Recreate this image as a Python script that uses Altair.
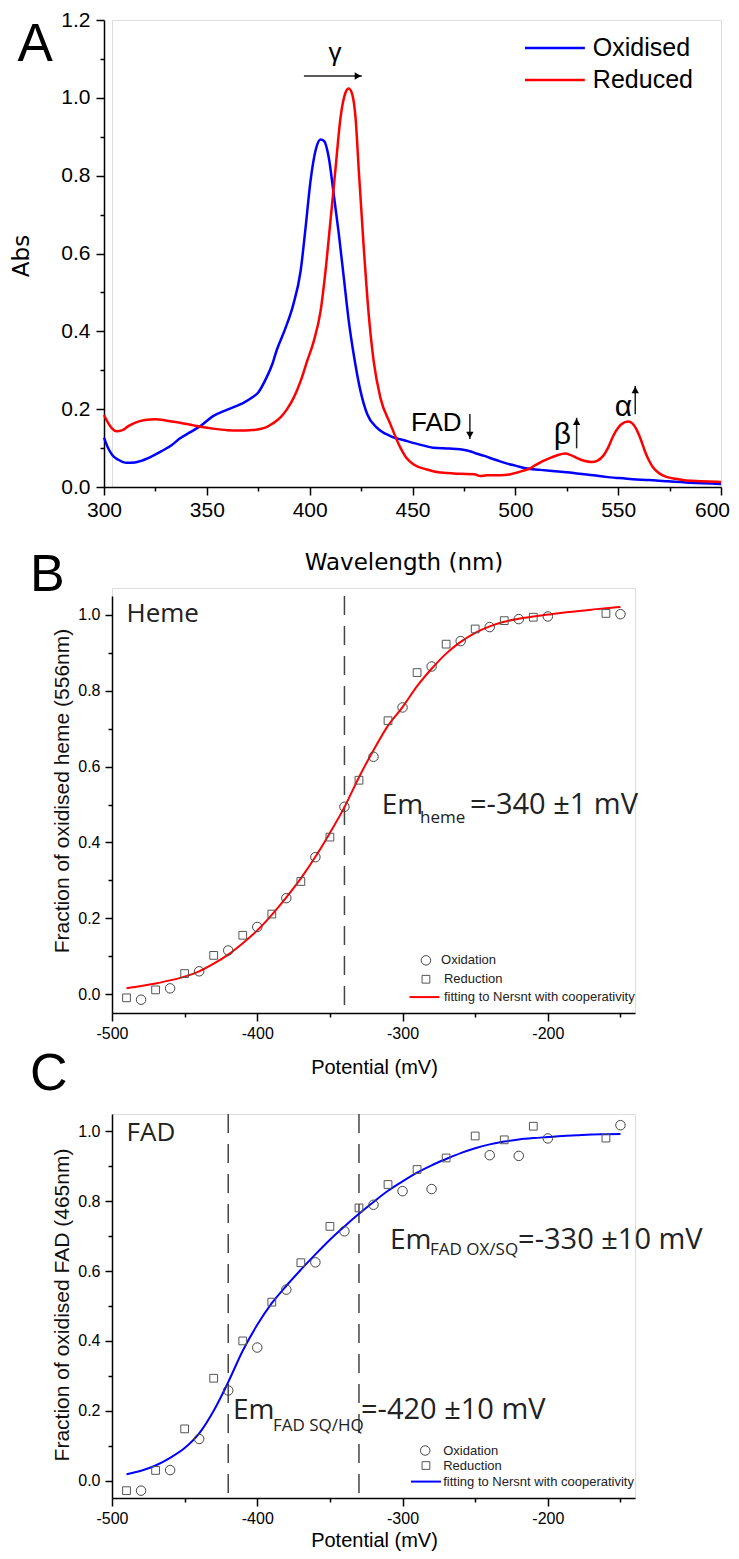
import altair as alt
import pandas as pd

# ---------------- Panel A: absorption spectra ----------------
wl_ox = [300, 302, 304, 307, 311, 315, 318, 323, 328, 333, 337, 342, 347, 353, 360, 368, 372, 375, 379, 382,
         384, 388, 392, 395.6, 398, 400.4, 403, 405.3, 407, 409.3, 411.7, 414.2, 416.6, 419, 421.4, 424.7, 428,
         432.8, 439.3, 447.4, 455, 460, 468, 473, 478, 481, 485, 488, 492, 496, 500, 505, 512, 518, 525, 531,
         538, 544, 550, 557, 565, 573, 585, 600]
abs_ox = [0.127, 0.100, 0.082, 0.070, 0.062, 0.063, 0.067, 0.078, 0.092, 0.108, 0.125, 0.141, 0.157, 0.182,
          0.199, 0.217, 0.230, 0.243, 0.281, 0.318, 0.352, 0.405, 0.468, 0.555, 0.666, 0.786, 0.868, 0.893,
          0.889, 0.846, 0.752, 0.649, 0.538, 0.427, 0.341, 0.247, 0.187, 0.152, 0.131, 0.118, 0.107, 0.101,
          0.099, 0.097, 0.092, 0.086, 0.080, 0.074, 0.067, 0.060, 0.055, 0.048, 0.044, 0.041, 0.038, 0.034,
          0.030, 0.026, 0.023, 0.020, 0.018, 0.015, 0.011, 0.008]
wl_red = [300, 302, 304, 306, 309, 312, 315, 320, 325, 330, 337, 343, 347, 353, 360, 366, 371, 376, 379, 382,
          385.7, 389, 392.2, 395.6, 398.8, 402, 405.3, 407.7, 410.1, 412.6, 415, 417.4, 419, 420.7, 422.3, 423.9,
          426.3, 428.7, 431.1, 434.4, 439.3, 444.1, 447, 450.6, 457, 463.5, 473, 480, 483, 486, 492.6, 497,
          500.7, 504, 507.2, 510, 513.6, 517, 520.1, 524.2, 527, 529.8, 533, 537.1, 540, 542.7, 545, 547.6,
          550, 551.6, 554.9, 557, 558.9, 561, 563, 565, 567, 570, 573.5, 578, 583, 590, 600]
abs_red = [0.185, 0.165, 0.150, 0.143, 0.146, 0.157, 0.165, 0.172, 0.174, 0.171, 0.165, 0.159, 0.155, 0.150,
           0.146, 0.145, 0.146, 0.149, 0.154, 0.163, 0.178, 0.200, 0.229, 0.272, 0.324, 0.375, 0.452, 0.555,
           0.683, 0.820, 0.949, 1.013, 1.024, 1.009, 0.949, 0.812, 0.615, 0.444, 0.324, 0.229, 0.161, 0.101,
           0.075, 0.058, 0.045, 0.037, 0.034, 0.033, 0.028, 0.030, 0.030, 0.032, 0.037, 0.042, 0.048, 0.057,
           0.067, 0.075, 0.081, 0.086, 0.082, 0.075, 0.068, 0.064, 0.068, 0.080, 0.100, 0.131, 0.152, 0.161,
           0.168, 0.163, 0.148, 0.122, 0.092, 0.068, 0.050, 0.035, 0.026, 0.021, 0.017, 0.015, 0.013]
series_names = ["Oxidised", "Reduced"]
series_colors = ["#0000FF", "#FF0000"]

# ---------------- Panel B: heme titration ----------------
heme_ox_E = [-480, -460, -440, -420, -400, -380, -360, -340, -320, -300, -280, -260, -240, -220, -200, -150]
heme_ox_f = [-0.015, 0.015, 0.060, 0.115, 0.177, 0.253, 0.361, 0.494, 0.626, 0.756, 0.864, 0.931, 0.968,
             0.989, 0.996, 1.002]
heme_red_E = [-490, -470, -450, -430, -410, -390, -370, -350, -330, -310, -290, -270, -250, -230, -210, -160]
heme_red_f = [-0.010, 0.011, 0.054, 0.102, 0.155, 0.211, 0.297, 0.414, 0.564, 0.721, 0.848, 0.923, 0.963,
              0.985, 0.994, 1.004]
heme_fit_E = [-490, -480, -470, -460, -450, -440, -430, -420, -410, -400, -390, -380, -370, -360, -350, -340,
              -330, -320, -310, -300, -290, -280, -270, -260, -250, -240, -230, -220, -210, -200, -190, -180,
              -170, -160, -150]
heme_fit_f = [0.015, 0.021, 0.028, 0.036, 0.046, 0.060, 0.080, 0.104, 0.134, 0.168, 0.209, 0.255, 0.305, 0.362,
              0.425, 0.493, 0.572, 0.643, 0.708, 0.757, 0.812, 0.858, 0.898, 0.929, 0.953, 0.970, 0.982, 0.990,
              0.996, 1.001, 1.006, 1.010, 1.014, 1.018, 1.021]

# ---------------- Panel C: FAD titration ----------------
fad_ox_E = [-480, -460, -440, -420, -400, -380, -360, -340, -320, -300, -280, -240, -220, -200, -150]
fad_ox_f = [-0.029, 0.030, 0.119, 0.258, 0.381, 0.547, 0.625, 0.714, 0.790, 0.829, 0.835, 0.932, 0.930,
            0.980, 1.018]
fad_red_E = [-490, -470, -450, -430, -410, -390, -370, -350, -330, -310, -290, -270, -250, -230, -210, -160]
fad_red_f = [-0.029, 0.029, 0.148, 0.293, 0.400, 0.511, 0.624, 0.728, 0.781, 0.848, 0.891, 0.924, 0.987,
             0.976, 1.015, 0.981]
fad_fit_E = heme_fit_E
fad_fit_f = [0.018, 0.028, 0.043, 0.065, 0.093, 0.135, 0.200, 0.282, 0.372, 0.446, 0.508, 0.558, 0.604, 0.648,
             0.690, 0.728, 0.764, 0.798, 0.830, 0.857, 0.882, 0.903, 0.921, 0.938, 0.952, 0.963, 0.971, 0.977,
             0.981, 0.984, 0.987, 0.989, 0.991, 0.992, 0.993]

legend_labels = ["Oxidation", "Reduction", "fitting to Nersnt with cooperativity"]

# ---------------- fonts / helpers ----------------
SANS = "Liberation Sans, Arial, sans-serif"
NARROW = "Liberation Sans Narrow, Arial Narrow, Liberation Sans, sans-serif"
DEJ = "DejaVu Sans, sans-serif"
OPEN = "Open Sans, sans-serif"


def ptext(text, x, y, size, font=SANS, align="left", baseline="alphabetic", angle=None, color="black"):
    kw = dict(align=align, baseline=baseline, font=font, fontSize=size, color=color)
    if angle is not None:
        kw["angle"] = angle
    return alt.Chart(pd.DataFrame({"t": [text]})).mark_text(**kw).encode(
        x=alt.value(x), y=alt.value(y), text="t:N")


def axis(values, major_test, labels_expr, font, size, pad, offset=0, fmt=None, major=8, minor=4,
         label_offset=None):
    kw = dict(values=values, title=None, grid=False,
              labelExpr=f"({major_test}) ? {labels_expr} : ''",
              tickSize={"condition": {"test": major_test, "value": major}, "value": minor},
              labelFont=font, labelFontSize=size, labelColor="black", labelPadding=pad,
              labelOverlap=False, labelFlush=False,
              domainColor="black", domainWidth=1.5, tickColor="black", tickWidth=1.5, offset=offset)
    if fmt:
        kw["format"] = fmt
    if label_offset is not None:
        kw["labelOffset"] = label_offset
    return alt.Axis(**kw)


# ================= Panel A =================
axA_x = axis(list(range(300, 601, 25)), "datum.value % 50 === 0", "'' + datum.value", NARROW, 21, 4,
             label_offset={"condition": {"test": "datum.value === 600", "value": -9}, "value": 0})
axA_y = axis([round(i * 0.1, 1) for i in range(13)], "round(datum.value * 10) % 2 === 0", "datum.label",
             NARROW, 21, 6, offset=8, fmt=".1f")
xA = alt.X("wl:Q", scale=alt.Scale(domain=[300, 600], range=[-8, 609], nice=False, zero=False), axis=axA_x)
yA = alt.Y("abs:Q", scale=alt.Scale(domain=[0, 1.2], nice=False, zero=False), axis=axA_y)
colA = alt.Color("series:N", scale=alt.Scale(domain=series_names, range=series_colors), legend=None)

spec = pd.DataFrame({"wl": wl_ox + wl_red, "abs": abs_ox + abs_red,
                     "series": [series_names[0]] * len(wl_ox) + [series_names[1]] * len(wl_red)})
a_lines = alt.Chart(spec).mark_line(strokeWidth=2.5, interpolate="monotone").encode(x=xA, y=yA, color=colA)

legA = pd.DataFrame({"series": series_names, "wl": [504.7, 504.7], "wl2": [533.8, 533.8], "abs": [1.128, 1.046]})
a_leg_rule = alt.Chart(legA).mark_rule(strokeWidth=2.5).encode(x=xA, x2="wl2:Q", y=yA, color=colA)
legA_t = pd.DataFrame({"series": series_names, "wl": [537.7, 537.7], "abs": [1.128, 1.046]})
a_leg_text = alt.Chart(legA_t).mark_text(align="left", baseline="middle", font=SANS, fontSize=25,
                                         color="black").encode(x=xA, y=yA, text="series:N")

greek = pd.DataFrame({"t": ["γ", "β", "α"], "wl": [412.3, 522.9, 552.6], "abs": [1.0946, 0.110, 0.1824],
                      "fs": [26, 30, 30]})
a_greek = alt.Chart(greek).mark_text(align="center", baseline="alphabetic", font=SANS, color="black").encode(
    x=xA, y=yA, text="t:N", size=alt.Size("fs:Q", scale=None))
fad_lbl = pd.DataFrame({"t": ["FAD"], "wl": [449.3], "abs": [0.1439]})
a_fad = alt.Chart(fad_lbl).mark_text(align="left", baseline="alphabetic", font=SANS, fontSize=26,
                                     color="black").encode(x=xA, y=yA, text="t:N")

arrows = pd.DataFrame({"wl": [397.2, 477.9, 529.8, 558.3], "wl2": [425.4, 477.9, 529.8, 558.3],
                       "abs": [1.056, 0.1876, 0.0994, 0.1868], "abs2": [1.056, 0.1233, 0.178, 0.2595]})
a_arrows = alt.Chart(arrows).mark_rule(color="#222222", strokeWidth=1.5).encode(
    x=xA, x2="wl2:Q", y=yA, y2="abs2:Q")
a_head_r = alt.Chart(pd.DataFrame({"wl": [425.4], "abs": [1.056]})).mark_point(
    shape="triangle-right", filled=True, size=55, color="black", opacity=1, xOffset=-4).encode(x=xA, y=yA)
a_head_d = alt.Chart(pd.DataFrame({"wl": [477.9], "abs": [0.1233]})).mark_point(
    shape="triangle-down", filled=True, size=55, color="black", opacity=1, yOffset=-4).encode(x=xA, y=yA)
a_head_u = alt.Chart(pd.DataFrame({"wl": [529.8, 558.3], "abs": [0.178, 0.2595]})).mark_point(
    shape="triangle-up", filled=True, size=55, color="black", opacity=1, yOffset=4).encode(x=xA, y=yA)

panelA = alt.layer(
    a_lines, a_leg_rule, a_leg_text, a_greek, a_fad, a_arrows, a_head_r, a_head_d, a_head_u,
    ptext("A", -94.4, 41, 53),
    ptext("Wavelength (nm)", 292, 550, 23, DEJ, "center"),
    ptext("Abs", -90, 236, 23, DEJ, "center", "middle", 270),
).properties(width=609, height=467)


# ================= Panels B and C =================
def titration_panel(ox_E, ox_f, red_E, red_f, fit_E, fit_f, fit_color, height, yrange, dashes,
                    name, name_f, em_parts, leg, ytitle, ytitle_y, xtitle_y, letter, letter_y):
    ax_x = axis([-500, -450, -400, -350, -300, -250, -200, -150], "datum.value % 100 === 0",
                "'' + datum.value", SANS, 16, 4)
    ax_y = axis([round(i * 0.1, 1) for i in range(11)], "round(datum.value * 10) % 2 === 0", "datum.label",
                SANS, 16, 5, fmt=".1f", major=7)
    xE = alt.X("E:Q", scale=alt.Scale(domain=[-500, -140], nice=False, zero=False), axis=ax_x)
    yF = alt.Y("f:Q", scale=alt.Scale(domain=[-0.05, 1.05], range=yrange, nice=False, zero=False), axis=ax_y)

    dash = alt.Chart(pd.DataFrame({"E": dashes, "f": [1.05] * len(dashes), "f2": [-0.05] * len(dashes)})) \
        .mark_rule(color="#444444", strokeWidth=1.5, strokeDash=[19, 11]).encode(x=xE, y=yF, y2="f2:Q")
    fit = alt.Chart(pd.DataFrame({"E": fit_E, "f": fit_f})).mark_line(
        color=fit_color, strokeWidth=2, interpolate="monotone").encode(x=xE, y=yF)
    circ = alt.Chart(pd.DataFrame({"E": ox_E, "f": ox_f})).mark_point(
        shape="circle", size=90, filled=False, color="#444444", strokeWidth=1, opacity=1).encode(x=xE, y=yF)
    sq = alt.Chart(pd.DataFrame({"E": red_E, "f": red_f})).mark_point(
        shape="square", size=60, filled=False, color="#555555", strokeWidth=1, opacity=1).encode(x=xE, y=yF)

    nm = alt.Chart(pd.DataFrame({"t": [name], "E": [-490], "f": [name_f]})).mark_text(
        align="left", baseline="alphabetic", font=OPEN, fontSize=26, color="#222222").encode(
        x=xE, y=yF, text="t:N")
    em_df = pd.DataFrame({"t": [p[0] for p in em_parts], "E": [p[1] for p in em_parts],
                          "f": [p[2] for p in em_parts], "fs": [p[3] for p in em_parts]})
    em = alt.Chart(em_df).mark_text(align="left", baseline="alphabetic", font=OPEN, color="#222222").encode(
        x=xE, y=yF, text="t:N", size=alt.Size("fs:Q", scale=None))

    (cE, cf), (sE, sf), (lE0, lE1, lf), tx = leg
    l_c = alt.Chart(pd.DataFrame({"E": [cE], "f": [cf]})).mark_point(
        shape="circle", size=90, filled=False, color="#444444", strokeWidth=1, opacity=1).encode(x=xE, y=yF)
    l_s = alt.Chart(pd.DataFrame({"E": [sE], "f": [sf]})).mark_point(
        shape="square", size=60, filled=False, color="#555555", strokeWidth=1, opacity=1).encode(x=xE, y=yF)
    l_l = alt.Chart(pd.DataFrame({"E": [lE0], "E2": [lE1], "f": [lf]})).mark_rule(
        color=fit_color, strokeWidth=2).encode(x=xE, x2="E2:Q", y=yF)
    l_t = alt.Chart(pd.DataFrame({"t": legend_labels, "E": [tx[0], tx[1], tx[1]], "f": [cf, sf, lf]})).mark_text(
        align="left", baseline="middle", font=SANS, fontSize=13, color="#222222").encode(x=xE, y=yF, text="t:N")

    return alt.layer(
        dash, fit, circ, sq, nm, em, l_c, l_s, l_l, l_t,
        ptext(letter, -82, letter_y, 52),
        ptext("Potential (mV)", 262.5, xtitle_y, 20, SANS, "center"),
        ptext(ytitle, -49.5, ytitle_y, 21, SANS, "center", "middle", 270, "#111111"),
    ).properties(width=523, height=height)


panelB = titration_panel(
    heme_ox_E, heme_ox_f, heme_red_E, heme_red_f, heme_fit_E, heme_fit_f, "#FF0000", 425, [425, 8], [-340],
    "Heme", 0.982,
    [("Em", -314.4, 0.475, 28), ("heme", -288.0, 0.451, 17), ("=-340 ±1 mV", -253.6, 0.475, 29)],
    ((-283.9, 0.089), (-283.9, 0.039), (-295.2, -274.6, -0.008), (-273.5, -271.5)),
    "Fraction of oxidised heme (556nm)", 203, 486, "B", 3)

panelC = titration_panel(
    fad_ox_E, fad_ox_f, fad_red_E, fad_red_f, fad_fit_E, fad_fit_f, "#0000FF", 384, [384, 0], [-420, -330],
    "FAD", 0.974,
    [("Em", -308.6, 0.664, 28), ("FAD OX/SQ", -281.1, 0.647, 17), ("=-330 ±10 mV", -220.5, 0.664, 29),
     ("Em", -416.7, 0.175, 28), ("FAD SQ/HQ", -389.2, 0.141, 17), ("=-420 ±10 mV", -328.6, 0.175, 29)],
    ((-284.4, 0.086), (-283.9, 0.043), (-294.2, -273.5, -0.003), (-272.0, -272.0)),
    "Fraction of oxidised FAD (465nm)", 191, 433, "C", -24)

chart = alt.vconcat(panelA, panelB, panelC, spacing=101, bounds="flush").properties(
    padding={"left": 2, "top": 0, "right": 0, "bottom": 0}
).configure_view(stroke=None).configure(background="white")

chart.save("out.html", embed_options={"renderer": "svg", "actions": False})
